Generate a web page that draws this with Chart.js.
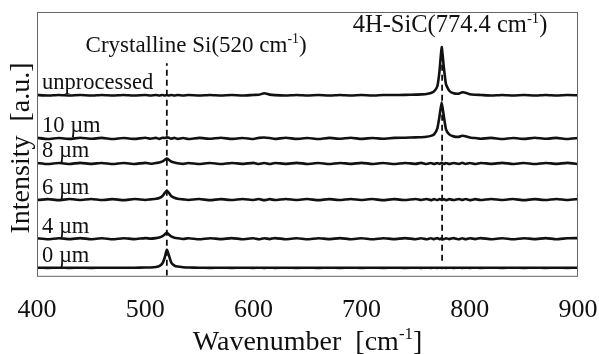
<!DOCTYPE html>
<html>
<head>
<meta charset="utf-8">
<script src="https://cdn.jsdelivr.net/npm/chart.js@4"></script>
<style>
  html, body { margin: 0; padding: 0; background: #fff; }
  #wrap { width: 599px; height: 354px; }
</style>
</head>
<body>
<div id="wrap"><canvas id="ramanChart" width="599" height="354"></canvas></div>
<script>
// Raman spectra, stacked by offset

// wavenumber axis (cm-1), denser around the Si and SiC peaks
const wavenumbers = [
  400, 410, 420, 430, 440, 450, 460, 470, 480, 490, 500,
  505, 510, 513, 516, 518, 520, 522, 524, 527, 530, 535, 540,
  550, 560, 570, 580, 590, 600,
  605, 610, 615, 620,
  630, 640, 650, 660, 670, 680, 690, 700, 710, 720, 730, 740, 750,
  755, 760, 764, 767, 770, 772, 774, 776, 778, 781, 785, 790, 793, 796, 800, 805, 810,
  820, 830, 840, 850, 860, 870, 880, 890, 900
];

const unprocessed = [
  0.2, -0.3, 0.3, -0.2, 0.2, -0.3, 0.3, -0.2, 0.3, -0.3, 0.2,
  -0.2, 0.3, -0.2, 0.2, -0.3, 0.2, -0.2, 0.3, -0.2, 0.2, -0.3, 0.2,
  -0.2, 0.3, -0.2, 0.2, -0.3, 0.3,
  0.5, 2.0, 0.6, 0.1,
  -0.2, 0.3, -0.2, 0.2, -0.3, 0.3, -0.2, 0.2, -0.3, 0.3, 0.2, 0.4, 0.6,
  0.9, 1.3, 2.2, 3.8, 9, 24, 48, 28, 11, 4.5, 2.0, 1.6, 3.0, 2.6, 1.0, 0.5, 0.3,
  -0.2, 0.3, -0.2, 0.2, -0.3, 0.3, -0.2, 0.2, 0.0
];

const um10 = [
  0.5, -0.6, 0.4, -0.5, 0.6, -0.4, 0.5, -0.6, 0.4, -0.5, 0.6,
  -0.4, 0.5, -0.5, 0.6, 0.4, 1.0, 0.6, -0.4, 0.5, -0.5, 0.4, -0.6,
  0.5, -0.4, 0.6, -0.5, 0.4, -0.6,
  0.5, 0.9, 0.3, -0.5,
  0.6, -0.5, 0.4, -0.6, 0.5, -0.4, 0.6, -0.5, 0.4, -0.3, 0.5, 0.7, 1.0,
  1.2, 1.6, 2.5, 4, 10, 22, 36, 22, 9, 4, 2, 1.5, 2.6, 2.2, 0.8, 0.3, -0.4,
  0.5, -0.6, 0.4, -0.5, 0.6, -0.4, 0.5, -0.6, 0.4
];

const um8 = [
  0.5, -0.6, 0.4, -0.5, 0.6, -0.4, 0.5, -0.6, 0.4, -0.5, 0.6,
  -0.3, 0.5, 0.9, 2.0, 3.5, 5, 3.5, 2.0, 1.0, 0.3, -0.4, 0.5,
  -0.5, 0.4, -0.6, 0.5, -0.4, 0.6,
  -0.5, 0.4, -0.6, 0.5,
  -0.4, 0.6, -0.5, 0.4, -0.6, 0.5, -0.4, 0.6, -0.5, 0.4, -0.6, 0.5, -0.4,
  0.6, -0.5, 0.4, -0.6, 0.5, -0.4, 0.6, -0.5, 0.4, -0.6, 0.5, -0.4, 0.6, -0.5, 0.4, -0.6, 0.5,
  -0.4, 0.6, -0.5, 0.4, -0.6, 0.5, -0.4, 0.6, -0.5
];

const um6 = [
  -0.5, 0.4, -0.6, 0.5, -0.4, 0.6, -0.5, 0.4, -0.6, 0.5, -0.4,
  0.2, 0.8, 1.5, 3.5, 6.5, 9, 6.5, 3.5, 1.8, 0.8, 0.2, -0.4,
  0.5, -0.6, 0.4, -0.5, 0.6, -0.4,
  0.5, -0.6, 0.4, -0.5,
  0.6, -0.4, 0.5, -0.6, 0.4, -0.5, 0.6, -0.4, 0.5, -0.6, 0.4, -0.5, 0.6,
  -0.4, 0.5, -0.6, 0.4, -0.5, 0.6, -0.4, 0.5, -0.6, 0.4, -0.5, 0.6, -0.4, 0.5, -0.6, 0.4, -0.5,
  0.6, -0.4, 0.5, -0.6, 0.4, -0.5, 0.6, -0.4, 0.5
];

const um4 = [
  0.4, -0.6, 0.5, -0.4, 0.6, -0.5, 0.4, -0.6, 0.5, -0.4, 0.6,
  0.1, 0.6, 1.2, 2.5, 4.2, 6, 4, 2.2, 1.0, 0.4, -0.3, 0.4,
  -0.6, 0.5, -0.4, 0.6, -0.5, 0.4,
  -0.6, 0.5, -0.4, 0.6,
  -0.5, 0.4, -0.6, 0.5, -0.4, 0.6, -0.5, 0.4, -0.6, 0.5, -0.4, 0.6, -0.5,
  0.4, -0.6, 0.5, -0.4, 0.6, -0.5, 0.4, -0.6, 0.5, -0.4, 0.6, -0.5, 0.4, -0.6, 0.5, -0.4, 0.6,
  -0.5, 0.4, -0.6, 0.5, -0.4, 0.6, -0.5, 0.4, 0.6
];

const um0 = [
  0.1, -0.1, 0.1, -0.1, 0.1, -0.1, 0.1, 0.0, 0.1, 0.1, 0.2,
  0.3, 0.8, 1.6, 4.5, 10, 18, 12, 5.5, 2.2, 1.2, 0.6, 0.3,
  0.1, -0.1, 0.1, -0.1, 0.1, -0.1,
  0.1, -0.1, 0.1, -0.1,
  0.1, -0.1, 0.1, -0.1, 0.1, -0.1, 0.1, -0.1, 0.1, -0.1, 0.1, -0.1, 0.1,
  -0.1, 0.1, -0.1, 0.1, -0.1, 0.1, -0.1, 0.1, -0.1, 0.1, -0.1, 0.1, -0.1, 0.1, -0.1, 0.1, -0.1,
  0.1, -0.1, 0.1, -0.1, 0.1, -0.1, 0.1, -0.1, 0.1
];

const seriesLabels = ['unprocessed', '10 \u00b5m', '8 \u00b5m', '6 \u00b5m', '4 \u00b5m', '0 \u00b5m'];
const seriesValues = [unprocessed, um10, um8, um6, um4, um0];
const stackOffsets = [180, 137, 112, 76, 37, 8];

// reference lines: Si at 520, 4H-SiC at 774.4
const markerX = [520, 774.4];
const siMarkerY = [0, 212];
const sicMarkerY = [15, 228];

const xTicks = [400, 500, 600, 700, 800, 900];

const serif = '"Liberation Serif", "Times New Roman", serif';

// build datasets
const datasets = seriesValues.map(function(vals, i) {
    return {
        label: seriesLabels[i],
        data: wavenumbers.map(function(w, j) { return { x: w, y: vals[j] + stackOffsets[i] }; }),
        borderColor: '#111',
        borderWidth: 2.6,
        pointRadius: 0,
        tension: 0.15,
        fill: false
    };
});
datasets.push({
    label: 'Si',
    data: siMarkerY.map(function(y) { return { x: markerX[0], y: y }; }),
    borderColor: '#111', borderWidth: 1.8, borderDash: [6, 4], pointRadius: 0
});
datasets.push({
    label: 'SiC',
    data: sicMarkerY.map(function(y) { return { x: markerX[1], y: y }; }),
    borderColor: '#111', borderWidth: 1.8, borderDash: [6, 4], pointRadius: 0
});

// text with superscript pieces
function drawRich(ctx, parts, x, y, size, align) {
    let total = 0;
    parts.forEach(function(p) {
        ctx.font = (p.sup ? size * 0.6 : size) + 'px ' + serif;
        p.w = ctx.measureText(p.t).width;
        total += p.w;
    });
    let cx = align === 'center' ? x - total / 2 : x;
    ctx.textAlign = 'left';
    ctx.textBaseline = 'alphabetic';
    parts.forEach(function(p) {
        ctx.font = (p.sup ? size * 0.6 : size) + 'px ' + serif;
        ctx.fillText(p.t, cx, p.sup ? y - size * 0.38 : y);
        cx += p.w;
    });
}

const decorations = {
    id: 'decorations',
    afterDraw: function(chart) {
        const ctx = chart.ctx;
        const a = chart.chartArea;
        const xs = chart.scales.x;
        const ys = chart.scales.y;
        ctx.save();
        // frame
        ctx.strokeStyle = '#666';
        ctx.lineWidth = 1;
        ctx.strokeRect(a.left + 0.5, a.top + 0.5, a.right - a.left - 1, a.bottom - a.top);
        ctx.fillStyle = '#111';
        // series labels
        seriesLabels.forEach(function(lbl, i) {
            const py = ys.getPixelForValue(stackOffsets[i]) - 6;
            drawRich(ctx, [{ t: lbl }], a.left + 5, py, 22.5, 'left');
        });
        // peak labels
        drawRich(ctx, [{ t: 'Crystalline Si(520 cm' }, { t: '-1', sup: true }, { t: ')' }],
            xs.getPixelForValue(547), 52, 23, 'center');
        drawRich(ctx, [{ t: '4H-SiC(774.4 cm' }, { t: '-1', sup: true }, { t: ')' }],
            xs.getPixelForValue(781.7), 32, 24.5, 'center');
        // axis titles
        drawRich(ctx, [{ t: 'Wavenumber  [cm' }, { t: '-1', sup: true }, { t: ']' }],
            (a.left + a.right) / 2, 350, 28, 'center');
        ctx.translate(29, 148);
        ctx.rotate(-Math.PI / 2);
        drawRich(ctx, [{ t: 'Intensity  [a.u.]' }], 0, 0, 28, 'center');
        ctx.restore();
    }
};

new Chart(document.getElementById('ramanChart').getContext('2d'), {
    type: 'line',
    data: { datasets: datasets },
    options: {
        responsive: false,
        animation: false,
        layout: { padding: { left: 37, right: 21, top: 12, bottom: 9 } },
        plugins: { legend: { display: false }, tooltip: { enabled: false } },
        scales: {
            x: {
                type: 'linear',
                min: 400,
                max: 900,
                grid: { display: false, drawTicks: false },
                border: { display: false },
                afterBuildTicks: function(axis) {
                    axis.ticks = xTicks.map(function(v) { return { value: v }; });
                },
                afterFit: function(axis) {
                    axis.paddingLeft = 0;
                    axis.paddingRight = 0;
                },
                ticks: {
                    color: '#111',
                    padding: 19,
                    maxRotation: 0,
                    font: { family: serif, size: 26 }
                }
            },
            y: {
                min: 0,
                max: 263,
                display: false
            }
        }
    },
    plugins: [decorations]
});
</script>
</body>
</html>
